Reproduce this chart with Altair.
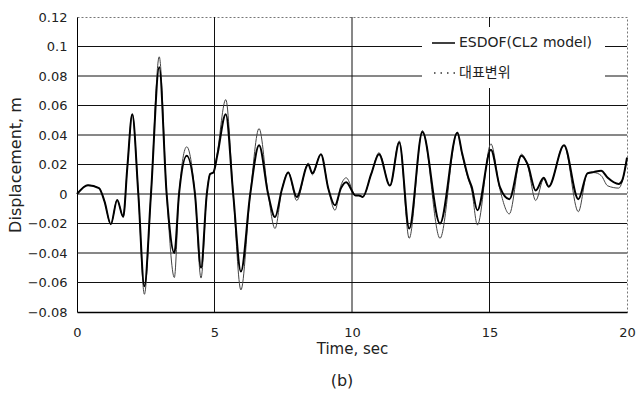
import altair as alt
import pandas as pd

# Time (s)
t = [0.00, 0.40, 0.80, 1.00, 1.23, 1.46, 1.68, 1.83, 2.01, 2.23, 2.45, 2.69, 2.99,
     3.26, 3.54, 3.71, 3.99, 4.29, 4.51, 4.72, 4.84, 4.96, 5.10, 5.41, 5.68, 5.96,
     6.30, 6.62, 6.95, 7.20, 7.45, 7.68, 7.99, 8.41, 8.56, 8.87, 9.14, 9.38, 9.60,
     9.79, 10.13, 10.25, 10.39, 10.70, 10.98, 11.38, 11.72, 12.08, 12.56, 13.20,
     13.83, 14.00, 14.23, 14.35, 14.56, 15.05, 15.38, 15.72, 16.16, 16.39, 16.68,
     16.97, 17.15, 17.71, 18.23, 18.56, 18.80, 19.06, 19.30, 19.70, 19.82, 20.00]

# ESDOF (CL2 model) - bold line
esdof = [0.000, 0.006, 0.004, -0.005, -0.0205, -0.004, -0.0155, 0.018, 0.054, 0.000,
         -0.0625, 0.000, 0.086, 0.000, -0.040, 0.000, 0.026, 0.000, -0.050, 0.000,
         0.0136, 0.0146, 0.026, 0.054, 0.000, -0.0525, 0.000, 0.033, 0.000, -0.0156,
         0.003, 0.0146, -0.002, 0.020, 0.014, 0.027, 0.0035, -0.0077, 0.004, 0.008,
         -0.001, -0.001, -0.002, 0.0136, 0.027, 0.0057, 0.035, -0.0234, 0.0420, -0.020,
         0.0415, 0.028, 0.011, 0.005, -0.011, 0.030, 0.0046, -0.0035, 0.026, 0.020,
         0.0024, 0.011, 0.0050, 0.033, -0.0035, 0.0140, 0.0150, 0.0158, 0.0110,
         0.0068, 0.0090, 0.0247]

# Representative displacement - thin line
rep = [0.000, 0.006, 0.004, -0.005, -0.0205, -0.004, -0.0155, 0.018, 0.054, 0.000,
       -0.068, 0.000, 0.093, 0.000, -0.0566, 0.000, 0.032, 0.000, -0.057, 0.000,
       0.0136, 0.0146, 0.028, 0.064, 0.000, -0.065, 0.000, 0.0444, 0.000, -0.0234,
       0.003, 0.0150, -0.0044, 0.021, 0.013, 0.027, 0.0035, -0.011, 0.006, 0.011,
       -0.001, -0.001, -0.002, 0.0136, 0.028, 0.0057, 0.036, -0.030, 0.0430, -0.030,
       0.0420, 0.027, 0.010, 0.003, -0.021, 0.034, 0.0030, -0.0135, 0.027, 0.019,
       -0.0044, 0.010, 0.0050, 0.033, -0.012, 0.0140, 0.0145, 0.0125, 0.0055,
       0.0040, 0.0080, 0.0247]

series_names = ["ESDOF(CL2 model)", "대표변위"]

y_ticks = [-0.08, -0.06, -0.04, -0.02, 0, 0.02, 0.04, 0.06, 0.08, 0.1, 0.12]
y_grid = [-0.06, -0.04, -0.02, 0, 0.02, 0.04, 0.06, 0.08, 0.1]
x_ticks = [0, 5, 10, 15, 20]
x_grid = [5, 10, 15]

FONT = "DejaVu Sans"
W, H = 550, 295

df = pd.DataFrame({"t": t, "esdof": esdof, "rep": rep})

xs = alt.Scale(domain=[0, 20], nice=False, zero=False)
ys = alt.Scale(domain=[-0.08, 0.12], nice=False, zero=False)

x_axis = alt.Axis(values=x_ticks, title="Time, sec", grid=False, ticks=False,
                  labelFlush=False, labelFont=FONT, labelFontSize=13, labelColor="#222",
                  labelPadding=14, titleFont=FONT, titleFontSize=15,
                  titleFontWeight="normal", titleColor="#222", titlePadding=2,
                  domainColor="#000", domainWidth=1.6)
y_axis = alt.Axis(values=y_ticks, title="Displacement, m", grid=False, ticks=False,
                  format=".2~f", labelFlush=False, labelFont=FONT, labelFontSize=13,
                  labelColor="#222", labelPadding=10, titleFont=FONT, titleFontSize=16,
                  titleFontWeight="normal", titleColor="#222", titlePadding=4,
                  domainColor="#000", domainWidth=1)

hgrid = alt.Chart(pd.DataFrame({"v": y_grid})).mark_rule(
    color="#111", strokeWidth=1
).encode(y=alt.Y("v:Q", scale=ys, axis=y_axis))

vgrid = alt.Chart(pd.DataFrame({"x": x_grid})).mark_rule(
    color="#111", strokeWidth=1
).encode(x=alt.X("x:Q", scale=xs, axis=x_axis))

legend_bg = alt.Chart(pd.DataFrame({"a": [0]})).mark_rect(fill="white").encode(
    x=alt.value(345), x2=alt.value(528), y=alt.value(10), y2=alt.value(71)
)

thin = alt.Chart(df).mark_line(color="#444", strokeWidth=1, interpolate="monotone").encode(
    x=alt.X("t:Q", scale=xs, axis=x_axis),
    y=alt.Y("rep:Q", scale=ys, axis=y_axis),
)
bold = alt.Chart(df).mark_line(color="#000", strokeWidth=2, interpolate="monotone").encode(
    x=alt.X("t:Q", scale=xs, axis=x_axis),
    y=alt.Y("esdof:Q", scale=ys, axis=y_axis),
)

one = pd.DataFrame({"a": [0]})
leg_line = alt.Chart(one).mark_rule(color="#000", strokeWidth=1.5).encode(
    x=alt.value(355), x2=alt.value(378), y=alt.value(26)
)
leg_dots = alt.Chart(one).mark_rule(color="#333", strokeWidth=1.5, strokeDash=[1.5, 5]).encode(
    x=alt.value(357), x2=alt.value(378), y=alt.value(56)
)
leg_t1 = alt.Chart(one).mark_text(align="left", baseline="middle", font=FONT,
                                  fontSize=14, color="#222", text=series_names[0]).encode(
    x=alt.value(382), y=alt.value(26)
)
leg_t2 = alt.Chart(one).mark_text(align="left", baseline="middle", font="Noto Sans CJK KR",
                                  fontSize=14, color="#222", text=series_names[1]).encode(
    x=alt.value(382), y=alt.value(56)
)
caption = alt.Chart(one).mark_text(align="center", baseline="middle", font=FONT,
                                   fontSize=16, color="#222", text="(b)").encode(
    x=alt.value(265), y=alt.value(364)
)

chart = alt.layer(
    hgrid, vgrid, legend_bg, thin, bold, leg_line, leg_dots, leg_t1, leg_t2, caption
).properties(
    width=W, height=H,
    autosize=alt.AutoSizeParams(type="none"),
    padding={"left": 77, "top": 17, "right": 11, "bottom": 88},
    background="white",
).configure_view(
    stroke="#777", strokeDash=[2, 2], strokeWidth=1
)

chart.save("out.html", embed_options={"renderer": "svg", "actions": False})
